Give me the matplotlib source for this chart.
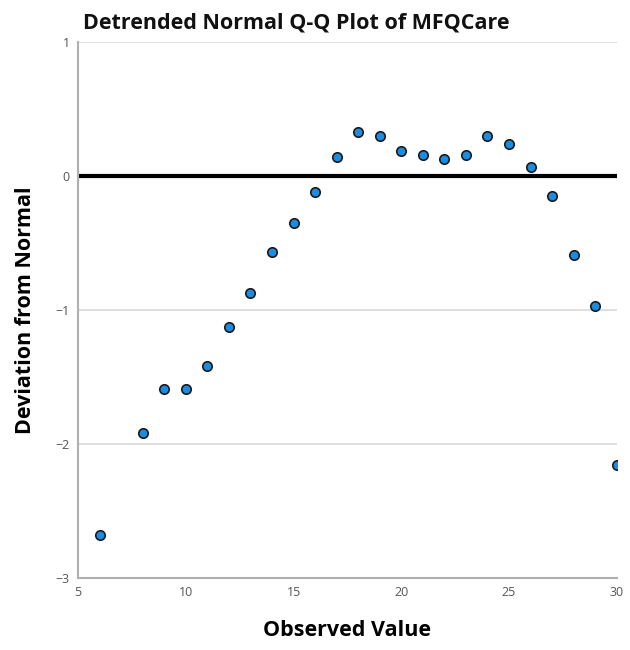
import matplotlib
matplotlib.use('Agg')
import matplotlib.pyplot as plt

# 관측값별 정규분포 편차
observed = [6, 8, 9, 10, 11, 12, 13, 14, 15, 16, 17, 18, 19, 20, 21, 22, 23, 24, 25, 26, 27, 28, 29, 30]
deviation = [-2.68, -1.92, -1.59, -1.59, -1.42, -1.13, -0.87, -0.57, -0.35, -0.12,
             0.14, 0.33, 0.30, 0.19, 0.16, 0.13, 0.16, 0.30, 0.24, 0.07,
             -0.15, -0.59, -0.97, -2.16]
y_ticks = [-3, -2, -1, 0, 1]
x_ticks = [5, 10, 15, 20, 25, 30]

matplotlib.rcParams['font.family'] = ['Open Sans', 'DejaVu Sans']

fig = plt.figure(figsize=(6.3, 6.5), dpi=100)
ax = fig.add_axes([0.124, 0.111, 0.855, 0.824])

# 보조선
for y in y_ticks:
    if y not in (0, -3):
        ax.axhline(y, color='#d9d9d9', lw=1.2, zorder=1)
ax.axhline(0, color='black', lw=3, zorder=2)

ax.plot(observed, deviation, ls='none', marker='o', ms=6.8,
        mfc='#1c8ce0', mec='#1a1a1a', mew=1.2, zorder=3)

ax.set_xlim(5, 30)
ax.set_ylim(-3, 1)
ax.set_xticks(x_ticks)
ax.set_yticks(y_ticks)
ax.tick_params(axis='both', length=0, labelsize=9, labelcolor='#555555', pad=6)

for side in ('top', 'right'):
    ax.spines[side].set_visible(False)
for side in ('left', 'bottom'):
    ax.spines[side].set_color('#b0b0b0')
    ax.spines[side].set_linewidth(1.5)

fig.text(0.132, 0.964, 'Detrended Normal Q-Q Plot of MFQCare', fontsize=15.5,
         fontweight='bold', ha='left', va='center', color='#111111')
ax.set_xlabel('Observed Value', fontsize=15.5, fontweight='bold', labelpad=15)
ax.set_ylabel('Deviation from Normal', fontsize=15.5, fontweight='bold', labelpad=14)

fig.savefig('out.png', dpi=100, facecolor='white')
